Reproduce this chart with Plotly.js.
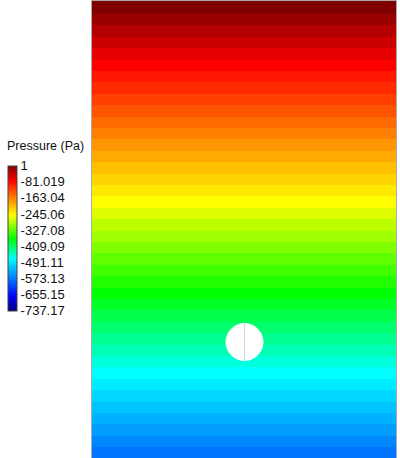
<!DOCTYPE html>
<html>
<head>
<meta charset="utf-8">
<script src="https://cdn.plot.ly/plotly-3.0.1.min.js"></script>
<style>html,body{margin:0;padding:0;background:#fff;}#chart{width:400px;height:458px;}</style>
</head>
<body>
<div id="chart"></div>
<script>
// Pressure (Pa) of each horizontal contour band, from top to bottom of the visible domain
const bandPressure = [1, -14, -29, -43, -58, -73, -88, -102, -117, -132,
  -147, -161, -176, -191, -206, -220, -235, -250, -265, -280,
  -294, -309, -324, -339, -353, -368, -383, -398, -412, -427,
  -442, -457, -471, -486, -501, -516, -530, -545, -560, -575];

// colorbar tick labels
const tickValues = [1, -81.019, -163.04, -245.06, -327.08, -409.09, -491.11, -573.13, -655.15, -737.17];
const tickLabels = ["1", "-81.019", "-163.04", "-245.06", "-327.08", "-409.09", "-491.11", "-573.13", "-655.15", "-737.17"];
const pMin = -737.17, pMax = 1;
const colorbarTitle = 'Pressure (Pa)';

// geometry (m): channel width, visible depth, band layout, cylinder
const channelWidth = 3.04;
const visibleDepth = 4.57;
const firstBandBottom = 0.13;
const bandThickness = 0.114;
const cylCenter = [1.525, 3.41];
const cylRadius = 0.185;

const edges = [0];
for (let i = 0; i < bandPressure.length; i++) edges.push(firstBandBottom + i * bandThickness);

const colorscale = [
  [0, '#000080'], [0.1, '#0000ff'], [0.36, '#00ffff'], [0.5, '#00ff00'],
  [0.66, '#ffff00'], [0.9, '#ff0000'], [1, '#800000']
];

const FONT = 'Liberation Sans, Arial, sans-serif';

const trace = {
  type: 'heatmap',
  x: [0, channelWidth],
  y: edges,
  z: bandPressure.map(v => [v]),
  zmin: pMin, zmax: pMax,
  colorscale: colorscale,
  hoverinfo: 'skip',
  colorbar: {
    xref: 'container', yref: 'container',
    x: 8 / 400, xanchor: 'left', xpad: 0,
    y: 1 - 166 / 458, yanchor: 'top', ypad: 0,
    thickness: 9, thicknessmode: 'pixels',
    len: 145, lenmode: 'pixels',
    outlinewidth: 1, outlinecolor: '#444',
    tickmode: 'array', tickvals: tickValues, ticktext: tickLabels,
    ticks: '', ticklabelpad: 1,
    tickfont: {family: FONT, size: 13, color: '#111'}
  }
};

const layout = {
  width: 400, height: 458,
  margin: {l: 92, r: 4, t: 1, b: 0, autoexpand: false},
  paper_bgcolor: '#fff', plot_bgcolor: '#fff',
  showlegend: false,
  xaxis: {range: [0, channelWidth], side: 'top', showline: true, linecolor: '#aaa', linewidth: 1,
    mirror: false, showgrid: false, zeroline: false, showticklabels: false, ticks: ''},
  yaxis: {range: [visibleDepth, 0], showline: true, linecolor: '#aaa', linewidth: 1,
    mirror: true, showgrid: false, zeroline: false, showticklabels: false, ticks: ''},
  annotations: [
    {text: colorbarTitle, xref: 'paper', yref: 'paper',
      x: (5 - 92) / 304, xanchor: 'left', y: 1 - (146 - 1) / 457, yanchor: 'middle',
      showarrow: false, font: {family: FONT, size: 12.5, color: '#111'}}
  ],
  shapes: [
    {type: 'circle', xref: 'x', yref: 'y',
      x0: cylCenter[0] - cylRadius, x1: cylCenter[0] + cylRadius,
      y0: cylCenter[1] - cylRadius, y1: cylCenter[1] + cylRadius,
      fillcolor: '#ffffff', line: {color: '#ffffff', width: 1}},
    {type: 'line', xref: 'x', yref: 'y',
      x0: cylCenter[0], x1: cylCenter[0],
      y0: cylCenter[1] - cylRadius, y1: cylCenter[1] + cylRadius,
      line: {color: '#d6d6d6', width: 1}}
  ]
};

Plotly.newPlot('chart', [trace], layout, {staticPlot: true, displayModeBar: false});
</script>
</body>
</html>
